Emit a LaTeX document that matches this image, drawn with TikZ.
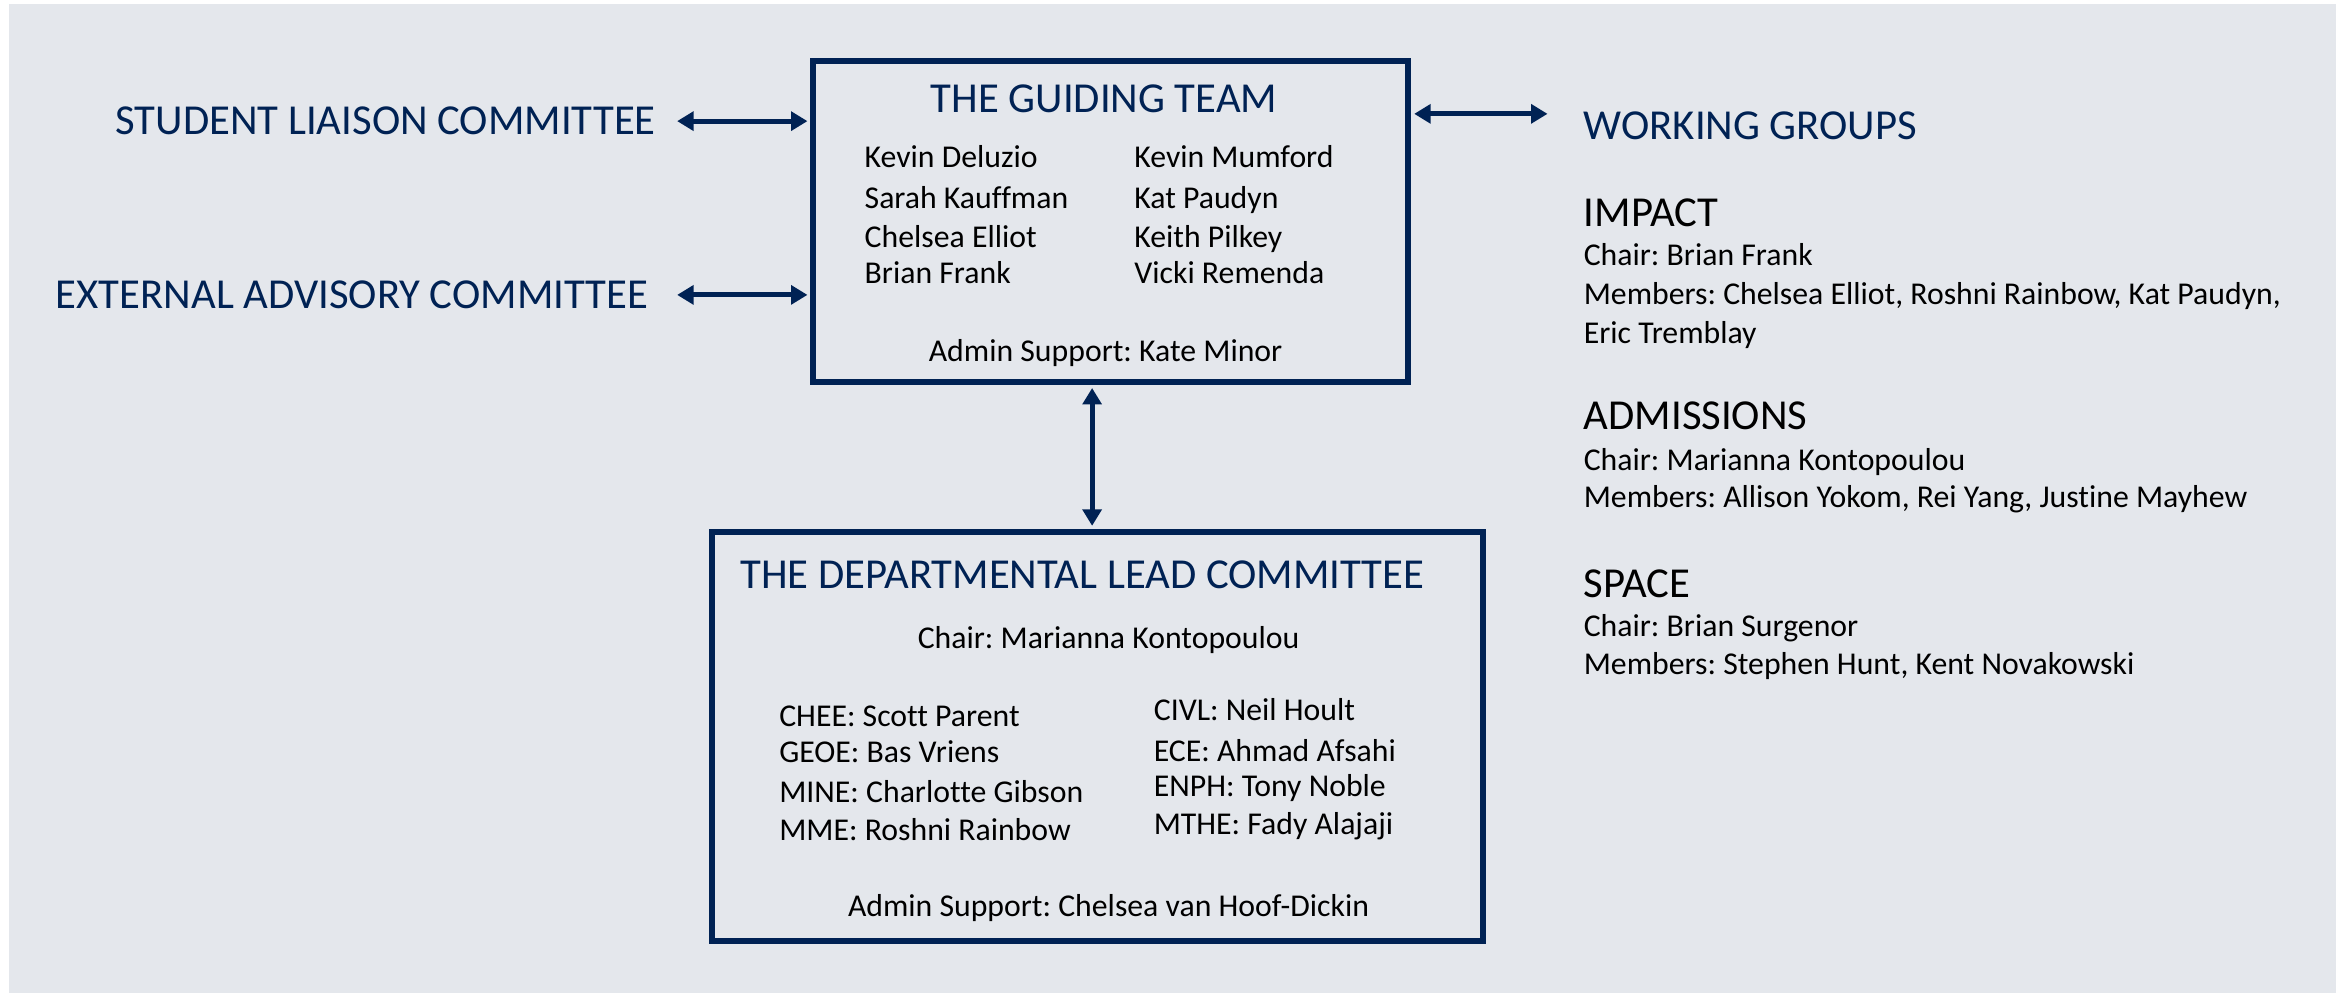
\documentclass[tikz,border=0pt]{standalone}
\usepackage{fontspec}
\setmainfont{Carlito}[Ligatures=NoCommon]
\usetikzlibrary{arrows.meta, positioning}
\definecolor{navy}{RGB}{0,34,84}
\definecolor{panel}{RGB}{228,231,236}
\frenchspacing

\begin{document}
\begin{tikzpicture}[x=1pt, y=-1pt,
    head/.style={font=\fontsize{28.5}{34}\selectfont, text=navy, inner sep=0pt},
    grouphead/.style={font=\fontsize{28.5}{34}\selectfont, inner sep=0pt, anchor=base west},
    body/.style={font=\fontsize{21.2}{25}\selectfont, inner sep=0pt},
    frame/.style={draw=navy, line width=4pt, inner sep=0pt},
    link/.style={navy, line width=3.3pt, {Triangle[length=11pt,width=12.5pt]}-{Triangle[length=11pt,width=12.5pt]}}]
    \useasboundingbox (0,0) rectangle (1568,663);
    \fill[panel] (6,3) rectangle (1559,663);

    % Guiding team box
    \node[frame, minimum width=397pt, minimum height=214pt] (guide) at (741.5,148) {};
    \node[head, anchor=base] (guidetitle) at (737,75) {THE GUIDING TEAM};
    \foreach \who/\y [count=\i] in {Kevin Deluzio/112, Sarah Kauffman/139, Chelsea Elliot/165, Brian Frank/189}
        \node[body, anchor=base west] (gl\i) at (577,\y) {\who};
    \foreach \who/\y [count=\i] in {Kevin Mumford/112, Kat Paudyn/139, Keith Pilkey/165, Vicki Remenda/189}
        \node[body, anchor=base west] (gr\i) at (757,\y) {\who};
    \node[body, anchor=base] (guideadmin) at (738,241) {Admin Support: Kate Minor};

    % Committees on the left
    \node[head, anchor=base east] (slc) at (438,90) {STUDENT LIAISON COMMITTEE};
    \node[head, anchor=base east] (eac) at (433,206) {EXTERNAL ADVISORY COMMITTEE};
    \draw[link, shorten >=2pt] ([xshift=14pt]slc.east) -- (slc.east -| guide.west);
    \draw[link, shorten >=2pt] ([xshift=19pt]eac.east) -- (eac.east -| guide.west);

    % Departmental lead committee box
    \node[frame, minimum width=515pt, minimum height=273pt] (dept) at (732.5,491.5) {};
    \node[head, anchor=base west] (depttitle) at (494,393) {THE DEPARTMENTAL LEAD COMMITTEE};
    \node[body, anchor=base] (deptchair) at (740,433) {Chair: Marianna Kontopoulou};
    \foreach \who/\y [count=\i] in {CHEE: Scott Parent/485, GEOE: Bas Vriens/509, MINE: Charlotte Gibson/536, MME: Roshni Rainbow/561}
        \node[body, anchor=base west] (dl\i) at (520,\y) {\who};
    \foreach \who/\y [count=\i] in {CIVL: Neil Hoult/481, ECE: Ahmad Afsahi/508, ENPH: Tony Noble/532, MTHE: Fady Alajaji/557}
        \node[body, anchor=base west] (dr\i) at (770,\y) {\who};
    \node[body, anchor=base] (deptadmin) at (740,612) {Admin Support: Chelsea van Hoof-Dickin};

    \coordinate (vx) at (729,0);
    \draw[link, shorten <=2pt, shorten >=2pt] (guide.south -| vx) -- (dept.north -| vx);

    % Working groups
    \coordinate (wgarrow) at (1033,76);
    \node[head, anchor=base west] (wg) at (1057,93) {WORKING GROUPS};
    \draw[link, shorten <=2pt] (guide.east |- wgarrow) -- (wgarrow);

    \node[grouphead] (impact) at (1057,151) {IMPACT};
    \node[body, anchor=base west] (impactchair) at (1057,177) {Chair: Brian Frank};
    \node[body, anchor=base west] (impactmem) at (1057,203) {Members: Chelsea Elliot, Roshni Rainbow, Kat Paudyn,};
    \node[body, anchor=base west] (impactmem2) at (1057,229) {Eric Tremblay};

    \node[grouphead] (admissions) at (1057,287) {ADMISSIONS};
    \node[body, anchor=base west] (admchair) at (1057,314) {Chair: Marianna Kontopoulou};
    \node[body, anchor=base west] (admmem) at (1057,339) {Members: Allison Yokom, Rei Yang, Justine Mayhew};

    \node[grouphead] (space) at (1057,399) {SPACE};
    \node[body, anchor=base west] (spacechair) at (1057,425) {Chair: Brian Surgenor};
    \node[body, anchor=base west] (spacemem) at (1057,450) {Members: Stephen Hunt, Kent Novakowski};
\end{tikzpicture}
\end{document}
